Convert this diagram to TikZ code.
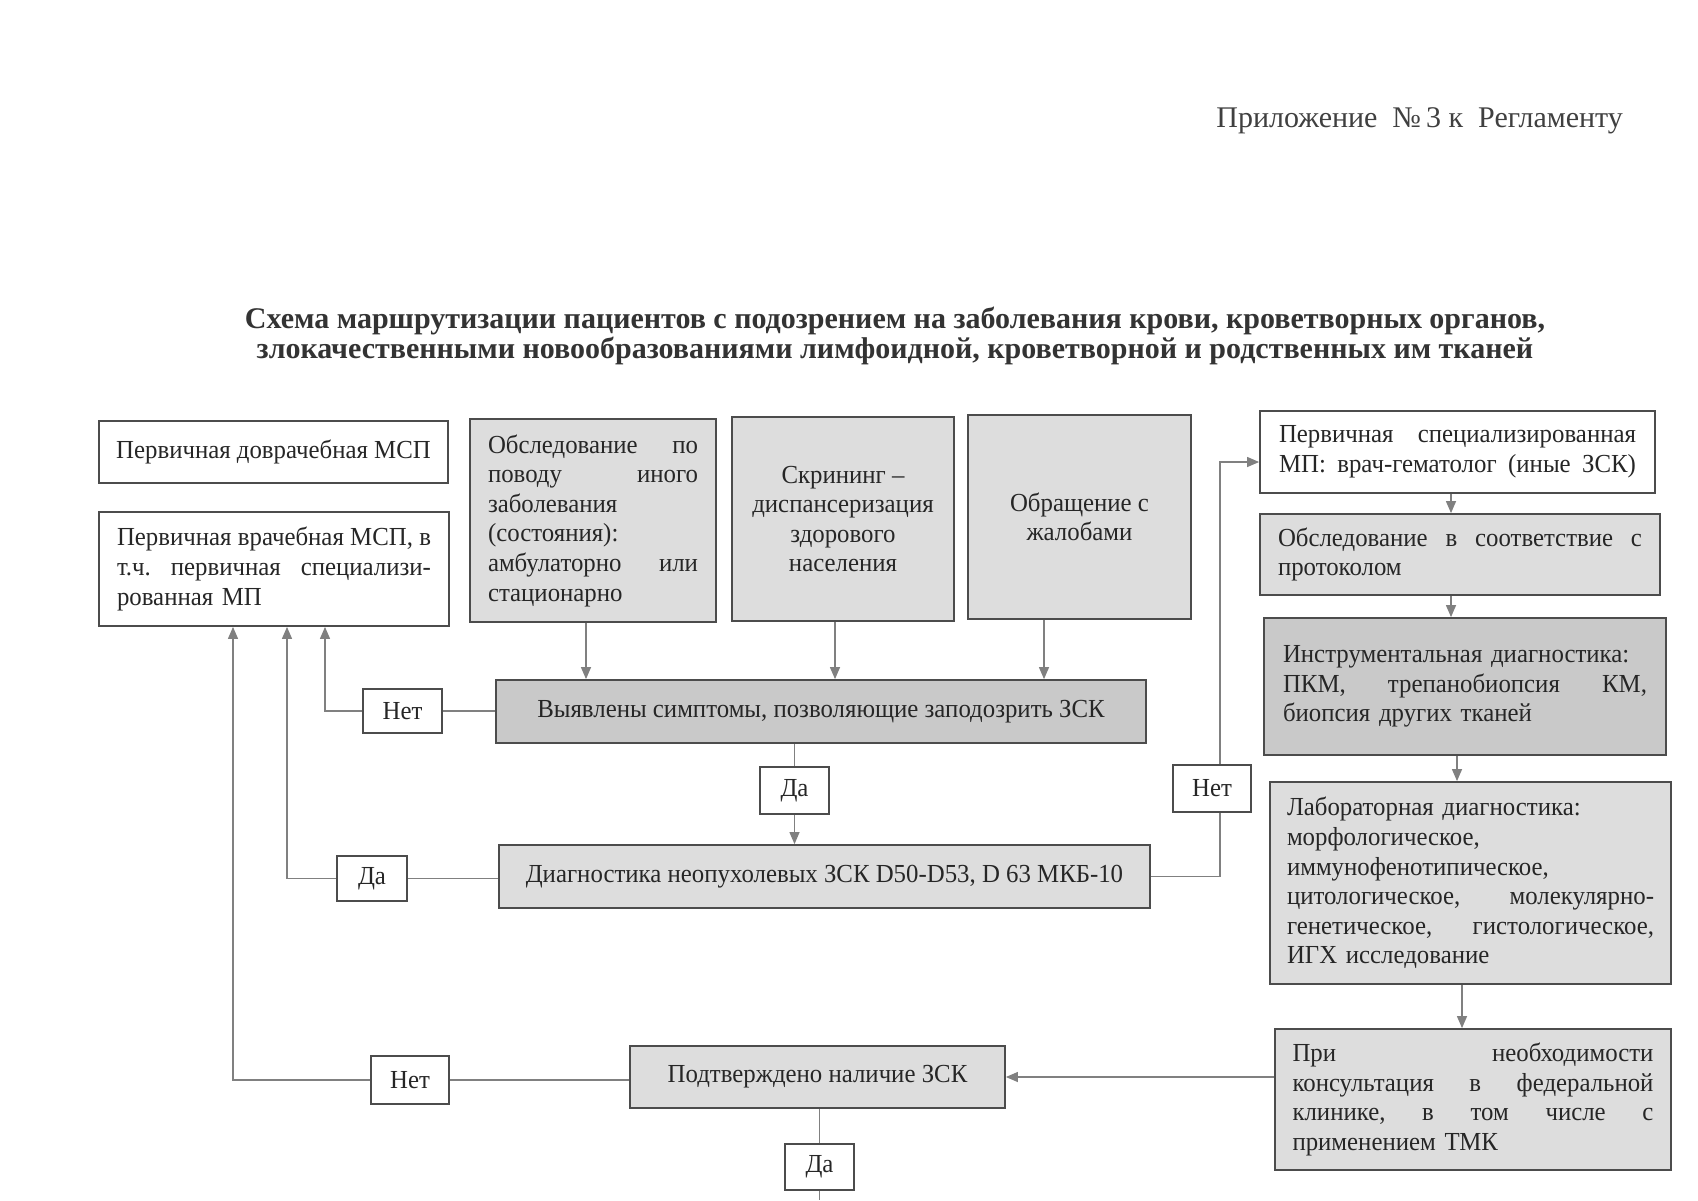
\documentclass[tikz,border=0pt]{standalone}
\usepackage{fontspec}
\setmainfont{Liberation Serif}
\newfontfamily\boxfont[FakeStretch=0.955]{Liberation Serif}
\usetikzlibrary{arrows.meta}
\begin{document}
\begin{tikzpicture}[x=0.5pt,y=-0.5pt,
  bx/.style={draw=black!70,line width=0.9pt,inner sep=0pt,text=black!85,
    font=\boxfont\fontsize{13}{14.8}\selectfont,align=center},
  lt/.style={bx,fill=gray!27},
  dk/.style={bx,fill=gray!42},
  lbl/.style={bx,fill=white},
  conn/.style={draw=black!50,line width=0.6pt},
  arr/.style={conn,-{Triangle[length=6pt,width=5pt]}}]
\useasboundingbox[fill=white] (0,0) rectangle (1698,1200);

\node[anchor=east,text=black!75,font=\fontsize{15}{17}\selectfont] (hdr) at (1630,121)
  {Приложение\enspace№\,3 к\enspace Регламенту};
\node[align=center,text=black!80,font=\bfseries\fontsize{15}{15.3}\selectfont] (ttl) at (895,336)
  {Схема маршрутизации пациентов с подозрением на заболевания крови, кроветворных органов,\\
   злокачественными новообразованиями лимфоидной, кроветворной и родственных им тканей};

% left column
\node[bx,minimum width=174.5pt,minimum height=31pt] (b1) at (273.5,452)
  {Первичная доврачебная МСП};
\node[bx,minimum width=175pt,minimum height=57pt,text width=157pt,align=left] (b2) at (274,569)
  {Первичная\hfill врачебная\hfill МСП,\hfill в\\
   т.ч.\hfill первичная\hfill специализи-\\
   рованная МП};

% top row
\node[lt,minimum width=123pt,minimum height=101.5pt,text width=105pt,align=left] (b3) at (593,520.5)
  {Обследование\hfill по\\ поводу\hfill иного\\ заболевания\\ (состояния):\\ амбулаторно\hfill или\\ стационарно};
\node[lt,minimum width=111pt,minimum height=102pt] (b4) at (843,519)
  {Скрининг –\\ диспансеризация\\ здорового\\ населения};
\node[lt,minimum width=111.5pt,minimum height=102pt] (b5) at (1079.5,517)
  {Обращение с\\ жалобами};

% middle
\node[dk,minimum width=325pt,minimum height=31.5pt] (b11) at (821,711.5)
  {Выявлены симптомы, позволяющие заподозрить ЗСК};
\node[lt,minimum width=325.5pt,minimum height=31.5pt] (b12) at (824.5,876.5)
  {Диагностика неопухолевых ЗСК D50-D53, D 63 МКБ-10};
\node[lt,minimum width=187.5pt,minimum height=31pt] (b13) at (817.5,1077)
  {Подтверждено наличие ЗСК};

% right column
\node[bx,minimum width=197.5pt,minimum height=41pt,text width=178.5pt,align=left] (b6) at (1457.5,452)
  {Первичная\hfill специализированная\\ МП:\hfill врач-гематолог\hfill (иные\hfill ЗСК)};
\node[lt,minimum width=200pt,minimum height=40.5pt,text width=182pt,align=left] (b7) at (1460,554.5)
  {Обследование\hfill в\hfill соответствие\hfill с\\ протоколом};
\node[dk,minimum width=201pt,minimum height=68.5pt,text width=182pt,align=left] (b8) at (1465,686.5)
  {Инструментальная диагностика:\\ ПКМ,\hfill трепанобиопсия\hfill КМ,\\ биопсия других тканей};
\node[lt,minimum width=200.5pt,minimum height=101pt,text width=183.5pt,align=left] (b9) at (1470.5,883)
  {Лабораторная диагностика:\\ морфологическое,\\ иммунофенотипическое,\\
   цитологическое,\hfill молекулярно-\\ генетическое,\hfill гистологическое,\\ ИГХ исследование};
\node[lt,minimum width=198pt,minimum height=70.5pt,text width=180.5pt,align=left] (b10) at (1473,1099.5)
  {При\hfill необходимости\\ консультация\hfill в\hfill федеральной\\
   клинике,\hfill в\hfill том\hfill числе\hfill с\\ применением ТМК};

% labels
\node[lbl,minimum width=39.5pt,minimum height=22pt] (n1) at (402.5,711) {Нет};
\node[lbl,minimum width=34.5pt,minimum height=23.5pt] (d1) at (794.5,790.5) {Да};
\node[lbl,minimum width=35pt,minimum height=22.5pt] (d2) at (372,878.5) {Да};
\node[lbl,minimum width=39pt,minimum height=23.5pt] (n2) at (1212,788.5) {Нет};
\node[lbl,minimum width=39pt,minimum height=24pt] (n3) at (410,1080) {Нет};
\node[lbl,minimum width=34.5pt,minimum height=23pt] (d3) at (819.5,1167) {Да};

% x-position helpers
\coordinate (x233) at (233,0);
\coordinate (x287) at (287,0);
\coordinate (x325) at (325,0);
\coordinate (x586) at (586,0);
\coordinate (x835) at (835,0);
\coordinate (x1044) at (1044,0);
\coordinate (x1220) at (1220,0);
\coordinate (x1451) at (1451,0);
\coordinate (x1457) at (1457,0);
\coordinate (x1462) at (1462,0);
\coordinate (y462) at (0,462);
\coordinate (bot) at (819.5,1200);

% connectors
\draw[arr] (b3.south -| x586) -- (b11.north -| x586);
\draw[arr] (b4.south -| x835) -- (b11.north -| x835);
\draw[arr] (b5.south -| x1044) -- (b11.north -| x1044);

\draw[conn] (b11.west |- n1.east) -- (n1.east);
\draw[arr] (n1.west) -| (b2.south -| x325);

\draw[conn] (b11.south -| d1) -- (d1.north);
\draw[arr] (d1.south) -- (b12.north -| d1);

\draw[conn] (b12.west |- d2.east) -- (d2.east);
\draw[arr] (d2.west) -| (b2.south -| x287);

\draw[conn] (b12.east) -| (n2.south -| x1220);
\draw[arr] (n2.north -| x1220) |- (b6.west |- y462);

\draw[arr] (b6.south -| x1451) -- (b7.north -| x1451);
\draw[arr] (b7.south -| x1451) -- (b8.north -| x1451);
\draw[arr] (b8.south -| x1457) -- (b9.north -| x1457);
\draw[arr] (b9.south -| x1462) -- (b10.north -| x1462);

\draw[arr] (b10.west |- b13.east) -- (b13.east);
\draw[conn] (b13.west |- n3.east) -- (n3.east);
\draw[arr] (n3.west) -| (b2.south -| x233);

\draw[conn] (b13.south -| d3) -- (d3.north);
\draw[conn] (d3.south) -- (bot);
\end{tikzpicture}
\end{document}
